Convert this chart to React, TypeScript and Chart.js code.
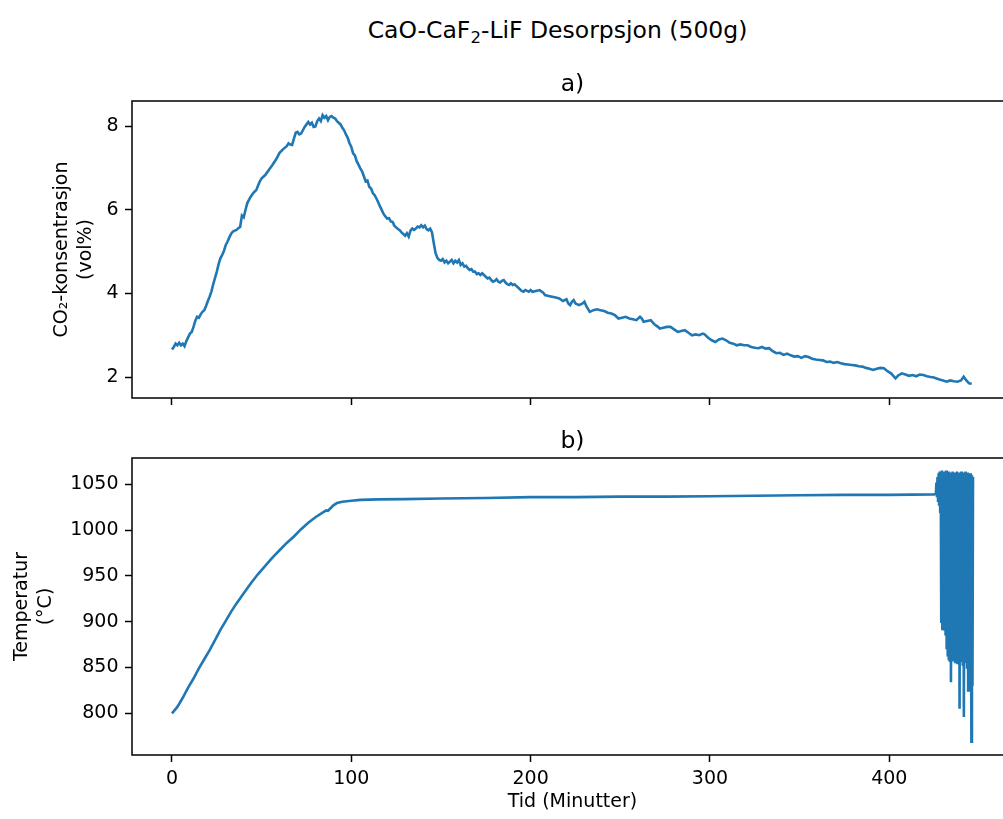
import React, { useEffect, useRef } from 'react';
import { Chart, registerables } from 'chart.js';

Chart.register(...registerables);

// ---- Data ----
const co2Time = [
  0, 1, 2, 3, 4, 5, 6, 7, 8, 9, 10, 11, 12, 13, 14, 15, 16, 17, 18, 19, 20, 21, 22, 23, 24, 25, 26, 27, 28, 29,
  30, 31, 32, 33, 34, 35, 36, 37, 38, 39, 40, 41, 42, 43, 44, 45, 46, 47, 48, 49, 50, 52, 54, 56, 58, 60, 62, 64,
  65, 66, 67, 68, 69, 70, 71, 72, 74, 76, 77, 78, 79, 80, 81, 82, 83, 84, 85, 86, 87, 88, 89, 90, 91, 92, 93, 94,
  95, 96, 97, 98, 99, 100, 101, 102, 103, 104, 105, 106, 107, 108, 109, 110, 111, 112, 113, 114, 115, 116, 117,
  118, 119, 120, 121, 122, 123, 124, 125, 126, 127, 128, 129, 130, 131, 132, 133, 134, 135, 136, 137, 138, 139,
  140, 141, 142, 143, 144, 145, 146, 147, 148, 149, 150, 151, 152, 153, 154, 155, 156, 157, 158, 159, 160, 161,
  162, 163, 164, 165, 166, 167, 168, 169, 170, 171, 172, 173, 174, 175, 176, 177, 178, 179, 180, 181, 182, 183,
  184, 185, 186, 187, 188, 189, 190, 191, 192, 193, 194, 195, 196, 197, 198, 199, 200, 201, 203, 205, 207, 208,
  210, 212, 214, 216, 218, 220, 221, 222, 223, 224, 225, 227, 229, 230, 231, 233, 235, 237, 239, 241, 243, 245,
  247, 249, 251, 253, 255, 257, 259, 261, 262, 263, 265, 267, 269, 271, 272, 274, 276, 278, 280, 282, 284, 286,
  288, 290, 292, 294, 296, 297, 299, 301, 303, 305, 307, 309, 311, 313, 315, 317, 319, 321, 323, 325, 327, 329,
  331, 333, 335, 337, 339, 341, 343, 345, 347, 349, 351, 353, 355, 357, 359, 361, 363, 365, 367, 369, 371, 373,
  375, 377, 379, 381, 383, 385, 387, 389, 391, 393, 395, 397, 399, 401, 402, 403.5, 405, 407, 409, 411, 413, 415,
  417, 419, 421, 423, 425, 426, 428, 430, 432, 434, 436, 438, 440, 441.5, 443, 444.5, 446,
];
const co2Values = [
  2.66, 2.72, 2.80, 2.76, 2.82, 2.76, 2.80, 2.74, 2.86, 2.95, 3.04, 3.08, 3.20, 3.35, 3.44, 3.42, 3.50, 3.56,
  3.60, 3.70, 3.82, 3.92, 4.05, 4.22, 4.37, 4.52, 4.70, 4.84, 4.92, 5.02, 5.16, 5.24, 5.34, 5.43, 5.48, 5.50,
  5.52, 5.56, 5.59, 5.86, 5.82, 6.00, 6.16, 6.24, 6.32, 6.38, 6.43, 6.47, 6.58, 6.68, 6.75, 6.83, 6.95, 7.07,
  7.20, 7.36, 7.45, 7.52, 7.59, 7.56, 7.55, 7.70, 7.84, 7.86, 7.80, 7.82, 7.98, 8.10, 8.04, 8.08, 7.98, 7.99,
  8.12, 8.18, 8.12, 8.26, 8.20, 8.24, 8.14, 8.22, 8.24, 8.20, 8.18, 8.12, 8.08, 8.04, 7.96, 7.90, 7.80, 7.72,
  7.59, 7.50, 7.35, 7.30, 7.16, 7.08, 6.99, 6.92, 6.80, 6.68, 6.70, 6.55, 6.51, 6.40, 6.35, 6.27, 6.18, 6.08,
  5.99, 5.90, 5.84, 5.79, 5.80, 5.72, 5.71, 5.62, 5.58, 5.54, 5.51, 5.46, 5.42, 5.38, 5.44, 5.36, 5.50, 5.55,
  5.52, 5.55, 5.60, 5.58, 5.63, 5.58, 5.62, 5.54, 5.51, 5.55, 5.46, 5.20, 4.96, 4.85, 4.80, 4.78, 4.82, 4.74,
  4.78, 4.72, 4.76, 4.80, 4.72, 4.78, 4.74, 4.80, 4.68, 4.72, 4.64, 4.66, 4.60, 4.56, 4.58, 4.52, 4.52, 4.46,
  4.48, 4.44, 4.48, 4.44, 4.40, 4.36, 4.38, 4.32, 4.28, 4.30, 4.34, 4.28, 4.26, 4.30, 4.32, 4.26, 4.22, 4.20,
  4.24, 4.20, 4.22, 4.18, 4.14, 4.10, 4.06, 4.04, 4.08, 4.06, 4.04, 4.08, 4.04, 4.06, 4.08, 4.02, 3.96, 3.94,
  3.92, 3.90, 3.88, 3.82, 3.86, 3.76, 3.72, 3.80, 3.84, 3.76, 3.72, 3.76, 3.80, 3.70, 3.56, 3.60, 3.62, 3.60,
  3.58, 3.54, 3.52, 3.48, 3.40, 3.42, 3.44, 3.40, 3.38, 3.36, 3.44, 3.40, 3.32, 3.34, 3.36, 3.26, 3.20, 3.16,
  3.18, 3.20, 3.20, 3.14, 3.08, 3.10, 3.12, 3.06, 3.00, 3.02, 3.00, 3.04, 3.02, 2.94, 2.88, 2.84, 2.90, 2.92,
  2.88, 2.82, 2.80, 2.76, 2.78, 2.76, 2.76, 2.72, 2.70, 2.69, 2.72, 2.68, 2.69, 2.62, 2.57, 2.58, 2.53, 2.56,
  2.52, 2.49, 2.50, 2.46, 2.50, 2.48, 2.44, 2.42, 2.41, 2.40, 2.36, 2.37, 2.34, 2.36, 2.33, 2.31, 2.30, 2.29,
  2.28, 2.26, 2.25, 2.22, 2.20, 2.17, 2.20, 2.22, 2.21, 2.14, 2.09, 2.04, 1.97, 2.04, 2.09, 2.06, 2.03, 2.05,
  2.02, 2.06, 2.05, 2.02, 2.00, 1.99, 1.97, 1.94, 1.92, 1.89, 1.92, 1.90, 1.89, 1.92, 2.01, 1.92, 1.85, 1.84,
];

const tempTime = [
  0, 3, 6, 9, 12, 15, 18, 21, 24, 27, 30, 33, 36, 40, 44, 48, 52, 56, 60, 64, 68, 72, 76, 80, 84, 86, 87, 88,
  90, 92, 95, 100, 105, 115, 130, 150, 175, 200, 225, 250, 275, 300, 325, 350, 375, 400, 425,
  426.0, 426.3, 426.6, 426.9, 427.2, 427.5, 427.8, 428.1, 428.4, 428.7, 429.0, 429.3, 429.6, 429.9, 430.2,
  430.5, 430.8, 431.1, 431.4, 431.7, 432.0, 432.3, 432.6, 432.9, 433.2, 433.5, 433.8, 434.1, 434.4, 434.7,
  435.0, 435.3, 435.6, 435.9, 436.2, 436.5, 436.8, 437.1, 437.4, 437.7, 438.0, 438.3, 438.6, 438.9, 439.2,
  439.5, 439.8, 440.1, 440.4, 440.7, 441.0, 441.3, 441.6, 441.9, 442.2, 442.5, 442.8, 443.1, 443.4, 443.7,
  444.0, 444.3, 444.6, 444.9, 445.2, 445.5, 445.8, 446.1, 446.4, 446.7,
];
const tempValues = [
  800, 807, 817, 828, 838, 849, 859, 869, 880, 891, 901, 911, 920, 931, 942, 952, 961, 970, 978, 986, 993,
  1001, 1008, 1014, 1019, 1021.5, 1021, 1023, 1027, 1029.5, 1031, 1032, 1033, 1033.5, 1033.8, 1034.5, 1035,
  1036, 1036, 1036.5, 1036.5, 1037, 1037.5, 1038, 1038.5, 1038.5, 1039,
  1040, 1052, 1036, 1058, 1032, 1062, 1028, 1064, 1020, 1063, 900, 1065, 892, 1062, 898,
  1064, 890, 1063, 885, 1065, 870, 1062, 862, 1064, 858, 1061, 856, 1063, 834, 1060,
  860, 1064, 858, 1062, 862, 1063, 856, 1060, 860, 1064, 855, 1062, 858, 1063, 805,
  1061, 856, 1064, 860, 1062, 852, 1063, 796, 1061, 855, 1064, 858, 1060, 850, 1063,
  825, 1062, 840, 1060, 835, 1062, 769, 1060, 830, 1058,
];

const xTicks = [0, 100, 200, 300, 400];
const co2Ticks = [2, 4, 6, 8];
const tempTicks = [800, 850, 900, 950, 1000, 1050];

const FONT = '"DejaVu Sans", sans-serif';
const BLUE = '#1f77b4';
const CANVAS_W = 1020;

const framePlugin = {
  id: 'frame',
  afterDraw(chart: any) {
    const { ctx, chartArea: a } = chart;
    ctx.save();
    ctx.strokeStyle = '#000';
    ctx.lineWidth = 1.5;
    ctx.strokeRect(a.left, a.top, a.right - a.left, a.bottom - a.top);
    ctx.restore();
  },
};

const panelTitlePlugin = {
  id: 'panelTitle',
  afterDraw(chart: any, _args: any, opts: any) {
    const { ctx, chartArea: a } = chart;
    ctx.save();
    ctx.font = `23.5px ${FONT}`;
    ctx.fillStyle = '#000';
    ctx.textAlign = 'center';
    ctx.textBaseline = 'alphabetic';
    ctx.fillText(opts.text, (a.left + a.right) / 2, a.top - 10);
    ctx.restore();
  },
};

function xScale(showLabels: boolean, height: number, title?: string) {
  return {
    type: 'linear',
    min: -22.3,
    max: 469,
    afterBuildTicks: (s: any) => {
      s.ticks = xTicks.map((v) => ({ value: v }));
    },
    afterFit: (s: any) => {
      s.height = height;
    },
    grid: { display: true, drawOnChartArea: false, drawTicks: true, tickLength: 7, tickWidth: 1.5, tickColor: '#000' },
    border: { display: false },
    ticks: {
      display: showLabels,
      color: '#000',
      font: { family: FONT, size: 19 },
      padding: 6,
      maxRotation: 0,
      autoSkip: false,
      callback: (v: any) => String(v),
    },
    title: title
      ? { display: true, text: title, color: '#000', font: { family: FONT, size: 19, lineHeight: 1.2 }, padding: { top: 0, bottom: 5.6 } }
      : { display: false },
  };
}

function yScale(min: number, max: number, ticks: number[], title: string[], titlePad: number) {
  return {
    type: 'linear',
    min,
    max,
    afterBuildTicks: (s: any) => {
      s.ticks = ticks.map((v) => ({ value: v }));
    },
    afterFit: (s: any) => {
      s.width = 132;
    },
    grid: { display: true, drawOnChartArea: false, drawTicks: true, tickLength: 7, tickWidth: 1.5, tickColor: '#000' },
    border: { display: false },
    ticks: {
      color: '#000',
      font: { family: FONT, size: 19 },
      padding: 6.5,
      autoSkip: false,
      callback: (v: any) => String(v),
    },
    title: {
      display: true,
      text: title,
      color: '#000',
      font: { family: FONT, size: 19, lineHeight: 1.26 },
      padding: { top: titlePad, bottom: 0 },
    },
  };
}

export default function App() {
  const topRef = useRef<HTMLCanvasElement | null>(null);
  const botRef = useRef<HTMLCanvasElement | null>(null);

  useEffect(() => {
    const common = {
      responsive: false,
      maintainAspectRatio: false,
      animation: false,
      devicePixelRatio: 1,
      events: [],
    };
    const top = new Chart(topRef.current as HTMLCanvasElement, {
      type: 'line',
      data: {
        datasets: [
          {
            data: co2Time.map((t, i) => ({ x: t, y: co2Values[i] })),
            borderColor: BLUE,
            borderWidth: 2.6,
            pointRadius: 0,
            fill: false,
            tension: 0,
          },
        ],
      },
      options: {
        ...common,
        layout: { padding: { top: 101, right: 7, bottom: 0, left: 0 } },
        scales: {
          x: xScale(false, 22),
          y: yScale(1.5, 8.6, co2Ticks, ['CO₂-konsentrasjon', '(vol%)'], 50),
        },
        plugins: { legend: { display: false }, tooltip: { enabled: false }, panelTitle: { text: 'a)' } },
      } as any,
      plugins: [framePlugin, panelTitlePlugin],
    } as any);

    const bot = new Chart(botRef.current as HTMLCanvasElement, {
      type: 'line',
      data: {
        datasets: [
          {
            data: tempTime.map((t, i) => ({ x: t, y: tempValues[i] })),
            borderColor: BLUE,
            borderWidth: 2.6,
            pointRadius: 0,
            fill: false,
            tension: 0,
          },
        ],
      },
      options: {
        ...common,
        layout: { padding: { top: 38, right: 7, bottom: 0, left: 0 } },
        scales: {
          x: xScale(true, 64, 'Tid (Minutter)'),
          y: yScale(754.5, 1078.7, tempTicks, ['Temperatur', '(°C)'], 10.5),
        },
        plugins: { legend: { display: false }, tooltip: { enabled: false }, panelTitle: { text: 'b)' } },
      } as any,
      plugins: [framePlugin, panelTitlePlugin],
    } as any);

    return () => {
      top.destroy();
      bot.destroy();
    };
  }, []);

  return (
    <div
      style={{
        position: 'absolute',
        left: 0,
        top: 0,
        width: 1003,
        height: 819,
        overflow: 'hidden',
        background: '#fff',
      }}
    >
      <div
        style={{
          position: 'absolute',
          left: 0,
          top: 16,
          width: 1115,
          textAlign: 'center',
          fontFamily: FONT,
          fontSize: '23.5px',
          lineHeight: '28px',
          color: '#000',
          whiteSpace: 'nowrap',
        }}
      >
        CaO-CaF
        <span style={{ fontSize: '16.5px', position: 'relative', top: '5px' }}>2</span>
        -LiF Desorpsjon (500g)
      </div>
      <canvas
        ref={topRef}
        width={CANVAS_W}
        height={420}
        style={{ position: 'absolute', left: 0, top: 0, display: 'block' }}
      />
      <canvas
        ref={botRef}
        width={CANVAS_W}
        height={399}
        style={{ position: 'absolute', left: 0, top: 420, display: 'block' }}
      />
    </div>
  );
}
